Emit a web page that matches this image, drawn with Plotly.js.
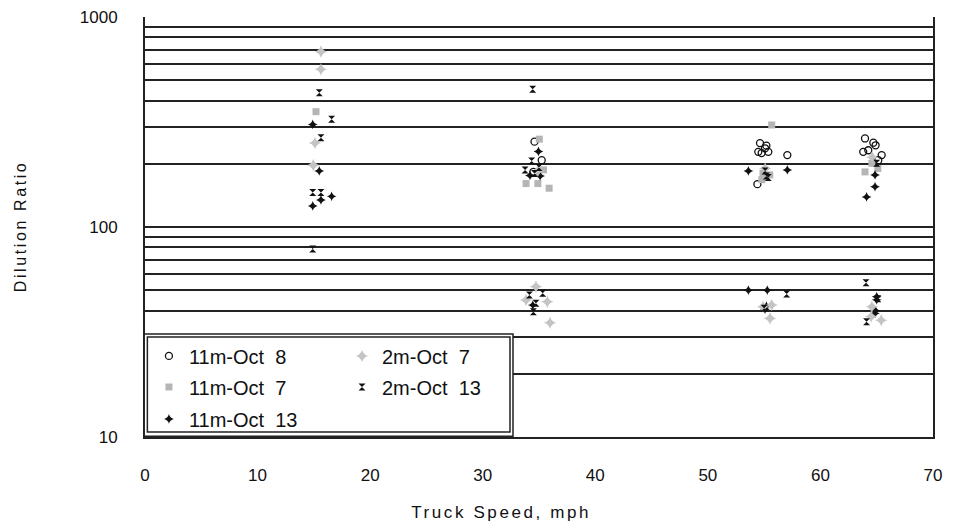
<!DOCTYPE html>
<html>
<head>
<meta charset="utf-8">
<script src="https://cdn.plot.ly/plotly-3.0.1.min.js"></script>
<style>
html,body{margin:0;padding:0;background:#fff;}
#chart{width:956px;height:525px;}
#chart .annotation-text{letter-spacing:2.6px;}
</style>
</head>
<body>
<div id="chart"></div>
<script>
// Series names
const seriesNames = ["11m-Oct  8", "11m-Oct  7", "11m-Oct  13", "2m-Oct  7", "2m-Oct  13"];

// 11m-Oct 8 (open circles)
const oct8_11m_x = [34.6, 35.24, 34.5, 54.63, 55.08, 54.48, 55.37, 57.06, 54.78, 54.4, 55.2, 63.96, 64.7, 63.8, 64.25, 65.44, 65.14, 64.9];
const oct8_11m_y = [255, 208, 183, 251, 237, 228, 228, 220, 225, 160, 244, 264, 252, 228, 232, 220, 208, 245];

// 11m-Oct 7 (gray squares)
const oct7_11m_x = [15.19, 35.03, 33.85, 34.9, 35.9, 35.4, 55.67, 54.9, 55.5, 54.8, 63.96, 64.57, 65.1];
const oct7_11m_y = [354, 262, 161, 161, 153, 187, 306, 180, 177, 168, 183, 201, 190];

// 11m-Oct 13 (black crosses)
const oct13_11m_x = [14.9, 15.48, 15.63, 16.58, 14.9, 34.95, 34.2, 35.1, 34.45, 53.6, 57.06, 53.6, 55.28, 55.08, 55.2, 64.85, 64.85, 64.1, 65.0, 65.0, 64.85, 64.9];
const oct13_11m_y = [308, 185, 134.6, 140, 126, 229, 176, 175, 42.5, 185, 187, 50, 50, 40.6, 42, 177, 155.6, 139, 46.6, 45, 38.8, 40];

// 2m-Oct 7 (gray diamonds)
const oct7_2m_x = [15.63, 15.63, 15.1, 14.95, 34.73, 33.85, 35.74, 35.98, 34.9, 55.67, 55.52, 54.9, 55.1, 64.57, 64.5, 65.4, 64.6];
const oct7_2m_y = [684, 564, 251, 197, 52, 44.9, 44, 35, 185, 42.5, 36.7, 41.7, 190, 41.7, 37.5, 36, 215];

// 2m-Oct 13 (hourglass)
const oct13_2m_x = [15.48, 16.58, 15.63, 14.9, 15.63, 14.9, 34.44, 34.35, 33.76, 34.6, 35.0, 34.15, 35.33, 34.73, 34.5, 55.08, 55.2, 55.37, 57.0, 55.0, 65.0, 64.05, 64.1, 65.1];
const oct13_2m_y = [436, 326, 266, 146, 146, 78.5, 453, 206, 187, 180, 192, 47.5, 48.4, 43.3, 39.5, 185, 175, 172, 48, 41, 201, 54.3, 35.4, 45.5];

// Axis ticks and titles
const xTicks = [0, 10, 20, 30, 40, 50, 60, 70];
const yMajorTicks = [10, 100, 1000];
const yMajorLabels = ['10', '100', '1000'];
const yMinorTicks = [20, 30, 40, 50, 60, 70, 80, 90, 200, 300, 400, 500, 600, 700, 800, 900];
const xTitle = 'Truck Speed, mph';
const yTitle = 'Dilution Ratio';

const traces = [
  {x: oct8_11m_x, y: oct8_11m_y, name: seriesNames[0], type: 'scatter', mode: 'markers', legend: 'legend',
   marker: {symbol: 'circle-open', size: 7, color: '#111', line: {width: 1.3, color: '#111'}}},
  {x: oct7_11m_x, y: oct7_11m_y, name: seriesNames[1], type: 'scatter', mode: 'markers', legend: 'legend2',
   marker: {symbol: 'square', size: 7, color: '#b5b5b5'}},
  {x: oct13_11m_x, y: oct13_11m_y, name: seriesNames[2], type: 'scatter', mode: 'markers', legend: 'legend3',
   marker: {symbol: 'star-diamond', size: 7, color: '#111'}},
  {x: oct7_2m_x, y: oct7_2m_y, name: seriesNames[3], type: 'scatter', mode: 'markers', legend: 'legend4',
   marker: {symbol: 'star-diamond', size: 9, color: '#c4c4c4'}},
  {x: oct13_2m_x, y: oct13_2m_y, name: seriesNames[4], type: 'scatter', mode: 'markers', legend: 'legend5',
   marker: {symbol: 'hourglass', size: 7, color: '#111'}}
];

const FONT = 'Liberation Sans, Arial, sans-serif';
function lg(x, y) {
  return {x: x, y: y, xanchor: 'left', yanchor: 'middle', bgcolor: 'rgba(0,0,0,0)', borderwidth: 0,
          font: {family: FONT, size: 20, color: '#111'}};
}

const layout = {
  width: 956, height: 525,
  margin: {l: 145, r: 23, t: 17, b: 88},
  paper_bgcolor: '#fff', plot_bgcolor: '#fff',
  font: {family: FONT, color: '#111'},
  showlegend: true,
  legend: lg(0.005, 0.193),
  legend2: lg(0.005, 0.119),
  legend3: lg(0.005, 0.043),
  legend4: lg(0.25, 0.193),
  legend5: lg(0.25, 0.119),
  xaxis: {
    range: [0, 70], tickvals: xTicks, showgrid: false, zeroline: false,
    showline: true, linecolor: '#222', linewidth: 2, mirror: false,
    ticks: '', ticklabelstandoff: 22,
    tickfont: {family: FONT, size: 17, color: '#111'}
  },
  yaxis: {
    type: 'log', range: [1, 3], tickvals: yMajorTicks, ticktext: yMajorLabels,
    showgrid: true, gridcolor: '#222', gridwidth: 2, zeroline: false,
    showline: true, linecolor: '#222', linewidth: 2, mirror: true,
    ticks: '', ticklabelstandoff: 22,
    tickfont: {family: FONT, size: 17, color: '#111'},
    minor: {tickvals: yMinorTicks, showgrid: true, gridcolor: '#222', gridwidth: 2, ticks: ''}
  },
  annotations: [
    {text: xTitle, xref: 'paper', yref: 'paper', x: 0.452, y: -0.179, xanchor: 'center', yanchor: 'middle',
     showarrow: false, font: {family: FONT, size: 17, color: '#111'}},
    {text: yTitle, xref: 'paper', yref: 'paper', x: -0.1586, y: 0.5, xanchor: 'center', yanchor: 'middle',
     textangle: -90, showarrow: false, font: {family: FONT, size: 16, color: '#111'}}
  ],
  shapes: [
    {type: 'rect', xref: 'paper', yref: 'paper', layer: 'above',
     x0: -0.001, x1: 0.467, y0: 0.002, y1: 0.245,
     fillcolor: '#fff', line: {color: '#222', width: 1.5}},
    {type: 'rect', xref: 'paper', yref: 'paper', layer: 'above',
     x0: 0.003, x1: 0.4632, y0: 0.012, y1: 0.238,
     fillcolor: 'rgba(0,0,0,0)', line: {color: '#222', width: 1.5}}
  ]
};

Plotly.newPlot('chart', traces, layout, {displayModeBar: false, staticPlot: true});
</script>
</body>
</html>
